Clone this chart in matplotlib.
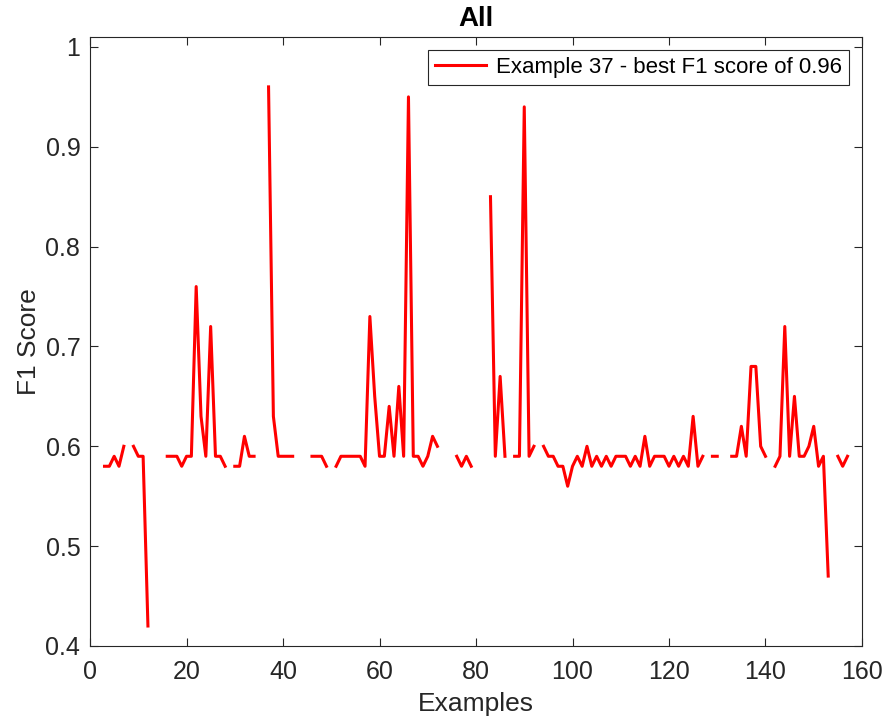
import numpy as np
import matplotlib.pyplot as plt

nan = np.nan
examples = np.arange(1, 158)
f1 = [nan, nan, 0.58, 0.58, 0.59, 0.58, 0.60, nan, 0.60, 0.59,
      0.59, 0.42, nan, nan, nan, 0.59, 0.59, 0.59, 0.58, 0.59,
      0.59, 0.76, 0.63, 0.59, 0.72, 0.59, 0.59, 0.58, nan, 0.58,
      0.58, 0.61, 0.59, 0.59, nan, nan, 0.96, 0.63, 0.59, 0.59,
      0.59, 0.59, nan, nan, nan, 0.59, 0.59, 0.59, 0.58, nan,
      0.58, 0.59, 0.59, 0.59, 0.59, 0.59, 0.58, 0.73, 0.65, 0.59,
      0.59, 0.64, 0.59, 0.66, 0.59, 0.95, 0.59, 0.59, 0.58, 0.59,
      0.61, 0.60, nan, nan, nan, 0.59, 0.58, 0.59, 0.58, nan,
      nan, nan, 0.85, 0.59, 0.67, 0.59, nan, 0.59, 0.59, 0.94,
      0.59, 0.60, nan, 0.60, 0.59, 0.59, 0.58, 0.58, 0.56, 0.58,
      0.59, 0.58, 0.60, 0.58, 0.59, 0.58, 0.59, 0.58, 0.59, 0.59,
      0.59, 0.58, 0.59, 0.58, 0.61, 0.58, 0.59, 0.59, 0.59, 0.58,
      0.59, 0.58, 0.59, 0.58, 0.63, 0.58, 0.59, nan, 0.59, 0.59,
      nan, nan, 0.59, 0.59, 0.62, 0.59, 0.68, 0.68, 0.60, 0.59,
      nan, 0.58, 0.59, 0.72, 0.59, 0.65, 0.59, 0.59, 0.60, 0.62,
      0.58, 0.59, 0.47, nan, 0.59, 0.58, 0.59]

best = int(np.nanargmax(f1))
label = 'Example %d - best F1 score of %.2f' % (examples[best], f1[best])

plt.rcParams['font.family'] = ['Liberation Sans', 'DejaVu Sans']
dark = '#262626'

fig = plt.figure(figsize=(8.88, 7.22), dpi=100)
ax = fig.add_axes([0.1014, 0.1053, 0.8693, 0.8435])

ax.plot(examples, f1, color='red', linewidth=2.2, label=label)

ax.set_xlim(0, 160)
ax.set_ylim(0.4, 1.01)
ax.set_xticks(range(0, 161, 20))
ax.set_yticks([0.4, 0.5, 0.6, 0.7, 0.8, 0.9, 1.0])
ax.set_yticklabels(['0.4', '0.5', '0.6', '0.7', '0.8', '0.9', '1'])

ax.tick_params(direction='in', length=6, width=0.8, colors=dark,
               labelsize=18, top=True, right=True)
ax.tick_params(axis='x', pad=10)
ax.tick_params(axis='y', pad=7)
for s in ax.spines.values():
    s.set_color(dark)
    s.set_linewidth(0.8)

ax.set_title('All', fontsize=20, fontweight='bold', color='black', pad=8)
ax.set_xlabel('Examples', fontsize=19, color=dark, labelpad=6)
ax.set_ylabel('F1 Score', fontsize=19, color=dark, labelpad=3)

leg = ax.legend(loc='upper right', fontsize=16, fancybox=False,
                edgecolor=dark, framealpha=1, handlelength=2.3,
                handletextpad=0.45, borderaxespad=0.6, borderpad=0.3)
leg.get_frame().set_linewidth(0.8)

fig.savefig('out.png', dpi=100)
